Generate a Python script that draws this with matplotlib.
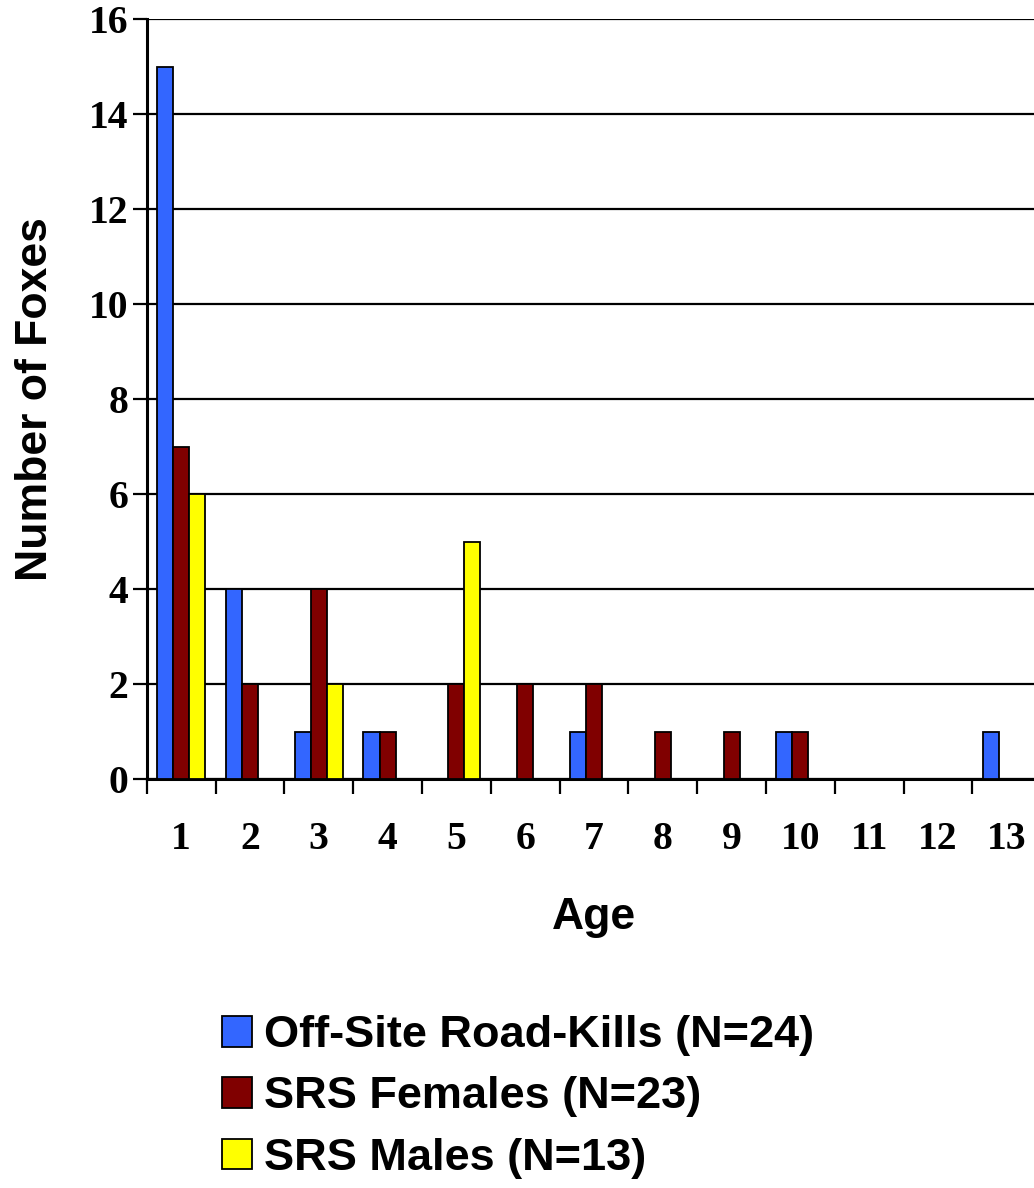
import matplotlib
matplotlib.use("Agg")
import matplotlib.pyplot as plt
import numpy as np
from matplotlib.patches import Patch

# Age distribution of foxes by source
ages = [1, 2, 3, 4, 5, 6, 7, 8, 9, 10, 11, 12, 13]
road_kills = [15, 4, 1, 1, 0, 0, 1, 0, 0, 1, 0, 0, 1]
srs_females = [7, 2, 4, 1, 2, 2, 2, 1, 1, 1, 0, 0, 0]
srs_males = [6, 0, 2, 0, 5, 0, 0, 0, 0, 0, 0, 0, 0]
series_names = ["Off-Site Road-Kills (N=24)", "SRS Females (N=23)", "SRS Males (N=13)"]
colors = ["#3366FF", "#800000", "#FFFF00"]
y_ticks = [0, 2, 4, 6, 8, 10, 12, 14, 16]

serif = ["Liberation Serif", "DejaVu Serif"]
sans = ["Liberation Sans", "DejaVu Sans"]

fig = plt.figure(figsize=(10.34, 11.88), dpi=100)
ax = fig.add_axes([0.1419, 0.344, 0.865, 0.6397])

x = np.arange(len(ages))
width = 0.233
for i, (vals, col) in enumerate(zip([road_kills, srs_females, srs_males], colors)):
    # skip empty bars so no outline is drawn at zero
    xs = [xi + (i - 1) * width for xi, v in zip(x, vals) if v > 0]
    hs = [v for v in vals if v > 0]
    ax.bar(xs, hs, width, color=col, edgecolor="black", linewidth=1.3, zorder=3)

ax.set_xlim(-0.5, len(ages) - 0.5)
ax.set_ylim(0, 16)
ax.set_yticks(y_ticks)
ax.set_yticklabels([str(t) for t in y_ticks], fontfamily=serif, fontweight="bold", fontsize=28.5)
ax.set_xticks(x)
ax.set_xticklabels([str(a) for a in ages], fontfamily=serif, fontweight="bold", fontsize=28.5)
ax.set_xticks(np.arange(len(ages) + 1) - 0.5, minor=True)

ax.tick_params(axis="y", which="major", direction="out", length=10, width=1.6, pad=3)
ax.tick_params(axis="x", which="major", length=0, pad=30)
ax.tick_params(axis="x", which="minor", direction="out", length=11, width=1.6)

ax.yaxis.grid(True, color="black", linewidth=1.6)
ax.set_axisbelow(True)

for side in ["top", "right"]:
    ax.spines[side].set_visible(False)
for side in ["left", "bottom"]:
    ax.spines[side].set_linewidth(2.2)

ax.set_ylabel("Number of Foxes", fontfamily=sans, fontweight="bold", fontsize=32, labelpad=24)
ax.set_xlabel("Age", fontfamily=sans, fontweight="bold", fontsize=32, labelpad=28)

handles = [Patch(facecolor=c, edgecolor="black", linewidth=1.3) for c in colors]
fig.legend(handles, series_names, loc="upper left", bbox_to_anchor=(0.2147, 0.1455),
           frameon=False, prop={"family": sans, "weight": "bold", "size": 32.5},
           handlelength=0.67, handleheight=0.67, handletextpad=0.25,
           labelspacing=0.45, borderpad=0, borderaxespad=0)

fig.savefig("out.png", dpi=100)
